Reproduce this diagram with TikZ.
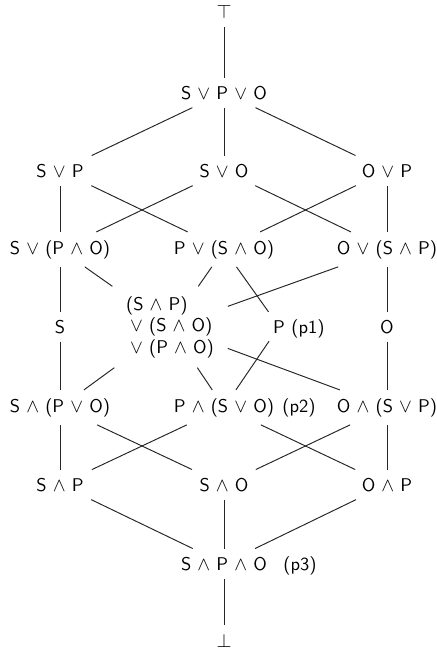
\documentclass[tikz,border=0pt]{standalone}
\begin{document}
\begin{tikzpicture}[x=0.02cm,y=-0.02cm,
  txt/.style={font=\sffamily\fontsize{10.5}{12.2}\selectfont},
  lat/.style={txt, inner sep=4.5pt, anchor=base},
  bignode/.style={txt, align=left, inner xsep=7.7pt, inner ysep=5.5pt, anchor=center},
  tag/.style={txt, inner sep=0pt, anchor=base west},
  ln/.style={line width=0.55pt, draw=black!85}]
\useasboundingbox (0,0) rectangle (436,652);
% nodes
\node[lat] (top) at (224,19) {$\top$};
\node[lat] (spo) at (224,99) {S $\vee$ P $\vee$ O};
\node[lat] (sp) at (60,177) {S $\vee$ P};
\node[lat] (so) at (224,177) {S $\vee$ O};
\node[lat] (op) at (387,177) {O $\vee$ P};
\node[lat] (svpo) at (60,254) {S $\vee$ (P $\wedge$ O)};
\node[lat] (pvso) at (224,254) {P $\vee$ (S $\wedge$ O)};
\node[lat] (ovsp) at (387,254) {O $\vee$ (S $\wedge$ P)};
\node[lat] (s) at (60,333) {S};
\node[bignode] (mid) at (170,327) {(S $\wedge$ P)\\\hspace*{2.3pt}$\vee$ (S $\wedge$ O)\\\hspace*{2.3pt}$\vee$ (P $\wedge$ O)};
\node[lat] (p) at (279,333) {P};
\node[tag] (p1) at (291,333) {(p1)};
\node[lat] (o) at (387,333) {O};
\node[lat] (sapo) at (60,412) {S $\wedge$ (P $\vee$ O)};
\node[lat] (paso) at (224,412) {P $\wedge$ (S $\vee$ O)};
\node[tag] (p2) at (282,412) {(p2)};
\node[lat] (oasp) at (387,412) {O $\wedge$ (S $\vee$ P)};
\node[lat] (sap) at (60,491) {S $\wedge$ P};
\node[lat] (sao) at (224,491) {S $\wedge$ O};
\node[lat] (oap) at (387,491) {O $\wedge$ P};
\node[lat] (sapao) at (224,570) {S $\wedge$ P $\wedge$ O};
\node[tag] (p3) at (283,570) {(p3)};
\node[lat] (bot) at (224,647) {$\bot$};
% edges
\draw[ln] (top) -- (spo);
\draw[ln] (spo) -- (sp);
\draw[ln] (spo) -- (so);
\draw[ln] (spo) -- (op);
\draw[ln] (sp) -- (svpo);
\draw[ln] (sp) -- (pvso);
\draw[ln] (so) -- (svpo);
\draw[ln] (so) -- (ovsp);
\draw[ln] (op) -- (pvso);
\draw[ln] (op) -- (ovsp);
\draw[ln] (svpo) -- (s);
\draw[ln] (svpo) -- (mid);
\draw[ln] (pvso) -- (mid);
\draw[ln] (pvso) -- (p);
\draw[ln] (ovsp) -- (mid);
\draw[ln] (ovsp) -- (o);
\draw[ln] (s) -- (sapo);
\draw[ln] (mid) -- (sapo);
\draw[ln] (mid) -- (paso);
\draw[ln] (mid) -- (oasp);
\draw[ln] (p) -- (paso);
\draw[ln] (o) -- (oasp);
\draw[ln] (sapo) -- (sap);
\draw[ln] (sapo) -- (sao);
\draw[ln] (paso) -- (sap);
\draw[ln] (paso) -- (oap);
\draw[ln] (oasp) -- (sao);
\draw[ln] (oasp) -- (oap);
\draw[ln] (sap) -- (sapao);
\draw[ln] (sao) -- (sapao);
\draw[ln] (oap) -- (sapao);
\draw[ln] (sapao) -- (bot);
\end{tikzpicture}
\end{document}
